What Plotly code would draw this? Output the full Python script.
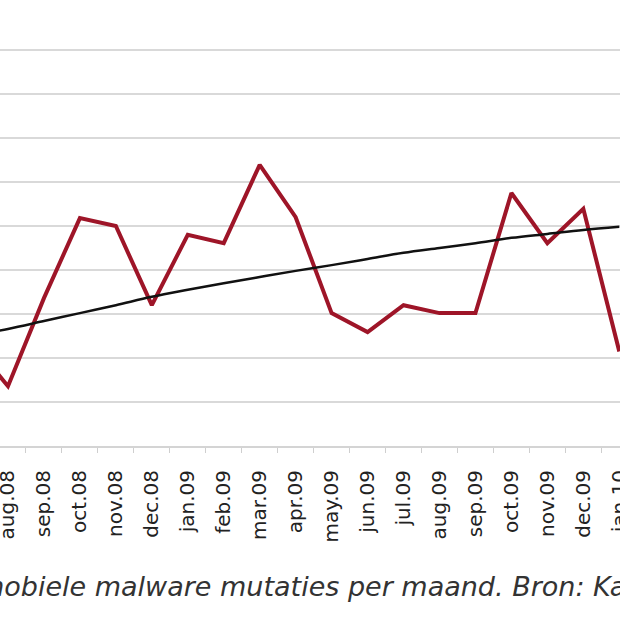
import plotly.graph_objects as go

months = ["jul.08", "aug.08", "sep.08", "oct.08", "nov.08", "dec.08",
          "jan.09", "feb.09", "mar.09", "apr.09", "may.09", "jun.09",
          "jul.09", "aug.09", "sep.09", "oct.09", "nov.09", "dec.09", "jan.10"]

mutaties = [23.5, 13.6, 33.6, 51.8, 50.0, 32.0,
            48.0, 46.1, 63.9, 52.0, 30.2, 25.9,
            32.0, 30.2, 30.2, 57.5, 46.1, 53.9, 21.5]

trend = [25.0, 26.6, 28.4, 30.2, 32.0, 33.9,
         35.5, 37.0, 38.4, 39.8, 41.1, 42.5,
         43.9, 45.0, 46.1, 47.3, 48.2, 49.1, 49.8]

caption = "mobiele malware mutaties per maand. Bron: Kaspersky"

fig = go.Figure()
fig.add_trace(go.Scatter(x=months, y=mutaties, mode="lines",
                         line=dict(color="#9e1528", width=4),
                         showlegend=False, hoverinfo="skip"))
fig.add_trace(go.Scatter(x=months, y=trend, mode="lines",
                         line=dict(color="#111111", width=2.5, shape="spline"),
                         showlegend=False, hoverinfo="skip"))

fig.update_layout(
    width=620, height=620,
    margin=dict(l=0, r=0, t=13, b=174, autoexpand=False),
    paper_bgcolor="white", plot_bgcolor="white",
    font=dict(family="DejaVu Sans", color="#333333"),
    xaxis=dict(
        type="category", range=[0.778, 18.02], automargin=False,
        tickangle=-90, tickson="boundaries",
        ticks="outside", ticklen=5, tickwidth=1, tickcolor="#cfcfcf",
        ticklabelstandoff=14,
        tickfont=dict(family="DejaVu Sans", size=20, color="#222222"),
        showline=True, linecolor="#d4d4d4", linewidth=2,
        showgrid=False, zeroline=False,
    ),
    yaxis=dict(
        range=[0, 98.4], dtick=10, tick0=0, automargin=False,
        showgrid=True, gridcolor="#d9d9d9", gridwidth=2,
        showticklabels=False, zeroline=False, showline=False, ticks="",
    ),
    annotations=[dict(
        text=caption, xref="paper", yref="paper",
        x=-24 / 620, y=(446 - 586) / 433, xanchor="left", yanchor="middle",
        showarrow=False,
        font=dict(family="DejaVu Sans", size=27, color="#333333", style="italic"),
    )],
)

fig.write_html("out.html")
